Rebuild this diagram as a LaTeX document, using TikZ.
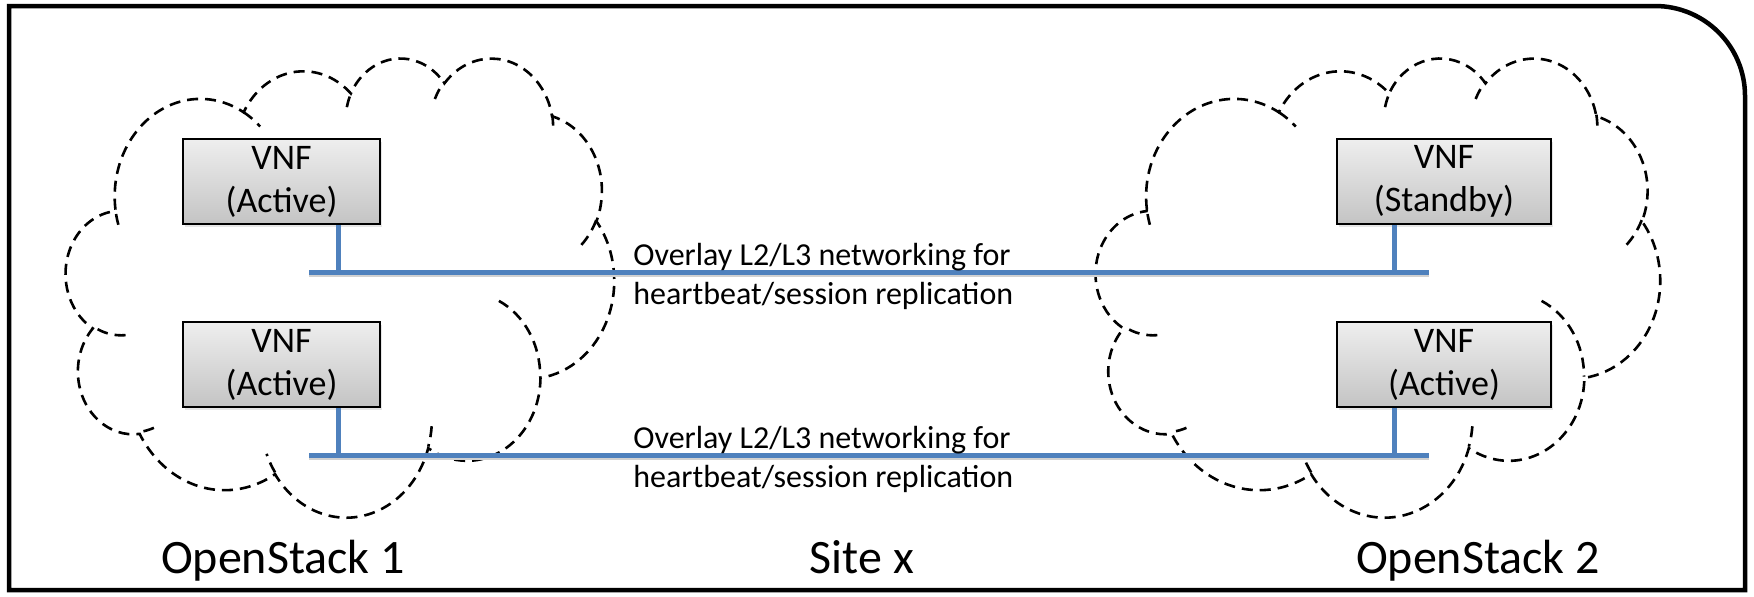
\documentclass[tikz,border=0pt]{standalone}
\usepackage{fontspec}
\setmainfont{Carlito}
\usetikzlibrary{shadows}

\definecolor{netBlue}{HTML}{4F81BD}
\definecolor{boxTop}{HTML}{EEEEEE}
\definecolor{boxBot}{HTML}{C4C4C4}

\begin{document}
\begin{tikzpicture}
  [x=0.5pt,y=-0.5pt,
  vnf/.style={rectangle,draw=black,line width=1pt,top color=boxTop,bottom color=boxBot,
    minimum height=42.5pt,minimum width=98.5pt,inner sep=0pt,align=center,
    font=\fontsize{18}{21.5}\selectfont,
    drop shadow={shadow xshift=1pt,shadow yshift=-1.5pt,opacity=0.2}},
  wvnf/.style={vnf,minimum width=107pt},
  net/.style={draw=netBlue,line width=2.5pt},
  netshadow/.style={net,
    preaction={draw=black!18,line width=2.5pt,transform canvas={yshift=-1.3pt}}},
  cloudline/.style={draw=black,line width=1.3pt,dash pattern=on 5.5pt off 3.5pt},
  note/.style={inner sep=0pt,align=left,font=\fontsize{16}{19.5}\selectfont},
  site/.style={inner sep=0pt,anchor=base,font=\fontsize{24}{28}\selectfont}]

  \useasboundingbox (0,0) rectangle (1754,596);

  % frame
  \draw[line width=2.25pt] (9,590) -- (9,6) -- (1655,6)
    arc[start angle=-90,end angle=0,radius=90] -- (1745,590) -- cycle;

  % clouds, 432 x 432 units each
  \foreach \cx/\cw in {66/548,1096/564}{
    \begin{scope}[shift={(\cx,57)},xscale=\cw/432,yscale=459/432]
      \draw[cloudline] (39,143.7)
        \foreach \rx/\ry/\st/\sw in {67.53/91.90/-190.4875/123.7805,
            53.33/72.67/-144.1024/89.9452, 43.65/59.45/-145.8079/99.7230,
            48.57/65.95/-130.9861/117.2417, 53.33/72.73/-78.7089/109.0269,
            67.75/92.20/-46.2673/130.2690, 57.85/78.67/0.6250/114.0333,
            67.52/92.15/22.4516/115.1726, 77.20/105.43/66.2426/75.7110,
            43.60/59.18/-274.9421/146.7356, 43.45/59.45/-246.8285/152.5189}
        {arc[x radius=\rx,y radius=\ry,
             start angle={atan2(\rx*sin(\st),\ry*cos(\st))},
             delta angle={mod(atan2(\rx*sin(\st+\sw),\ry*cos(\st+\sw))-atan2(\rx*sin(\st),\ry*cos(\st))+720,360)}]}
        -- cycle;
      \foreach \px/\py/\rx/\ry/\st/\sw in {46.93/261.77/43.45/59.45/86.7420/26.4295,
          69.28/348.99/43.60/59.18/73.6105/11.4475,
          164.78/390.90/67.52/92.15/137.6242/14.0811,
          288.27/347.51/67.52/92.15/6.4533/15.9984,
          341.29/229.54/57.85/78.67/-70.2924/70.9174,
          417.98/153.54/53.33/72.73/30.3180/27.7515,
          383.24/54.26/48.57/65.95/-13.7443/14.8589,
          290.78/39.52/48.57/65.95/-149.1815/18.1954,
          221.41/47.20/43.65/59.45/-163.4943/17.6864,
          140.00/51.92/67.53/91.90/-66.7070/12.3194,
          41.27/157.89/67.53/91.90/157.6544/11.8582}
        \draw[cloudline] (\px,\py) arc[x radius=\rx,y radius=\ry,
             start angle={atan2(\rx*sin(\st),\ry*cos(\st))},
             delta angle={mod(atan2(\rx*sin(\st+\sw),\ry*cos(\st+\sw))-atan2(\rx*sin(\st),\ry*cos(\st))+720,360)}];
    \end{scope}
  }

  \node[vnf] (vnf1) at (281.5,181.5) {VNF\\(Active)};
  \node[vnf] (vnf2) at (281.5,364.5) {VNF\\(Active)};
  \node[wvnf] (vnfs) at (1444,181.5) {VNF\\(Standby)};
  \node[wvnf] (vnf3) at (1444,364.5) {VNF\\(Active)};

  % overlay networks
  \coordinate (net1w) at (309,272);
  \coordinate (net1e) at (1429,272);
  \coordinate (net2w) at (309,455);
  \coordinate (net2e) at (1429,455);
  \coordinate (tap1a) at (338,272);
  \coordinate (tap1s) at (1394,272);
  \coordinate (tap2a) at (338,455);
  \coordinate (tap2b) at (1394,455);

  \draw[net] (tap1a |- vnf1.south) -- (tap1a);
  \draw[net] (tap2a |- vnf2.south) -- (tap2a);
  \draw[net] (tap1s |- vnfs.south) -- (tap1s);
  \draw[net] (tap2b |- vnf3.south) -- (tap2b);
  \draw[netshadow] (net1w) -- (net1e);
  \draw[netshadow] (net2w) -- (net2e);

  \node[note,anchor=west] (ovl1) at (633,276) {Overlay L2/L3 networking for\\heartbeat/session replication};
  \node[note,anchor=west] (ovl2) at (633,459) {Overlay L2/L3 networking for\\heartbeat/session replication};

  \node[site] (os1) at (283,573) {OpenStack 1};
  \node[site] (sitex) at (862,573) {Site x};
  \node[site] (os2) at (1478,573) {OpenStack 2};
\end{tikzpicture}
\end{document}
